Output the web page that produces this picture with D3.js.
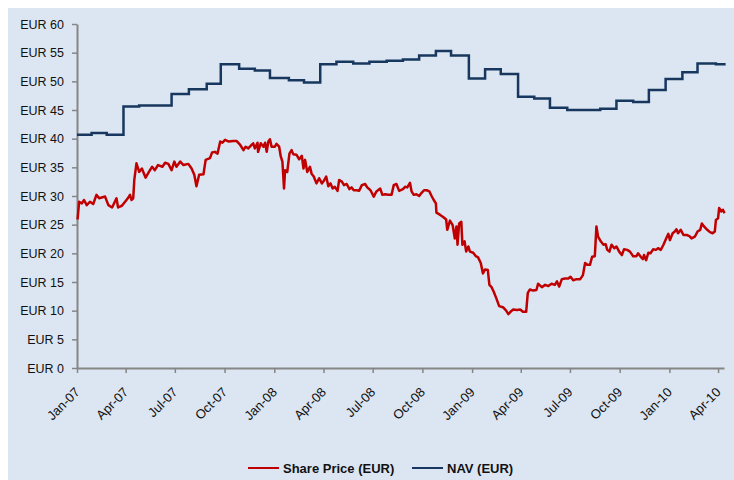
<!DOCTYPE html>
<html>
<head>
<meta charset="utf-8">
<script src="https://cdn.jsdelivr.net/npm/d3@7"></script>
<style>
  body { margin: 0; background: #fff; }
  svg { display: block; font-family: "Liberation Sans", Arial, sans-serif; }
</style>
</head>
<body>
<svg id="chart"></svg>
<script>
// days counted from 1 Jan 2007
let startDate = new Date(2007, 0, 1);
let endDay = 1197;

let yTicks = [0, 5, 10, 15, 20, 25, 30, 35, 40, 45, 50, 55, 60];
let xTickLabels = ["Jan-07","Apr-07","Jul-07","Oct-07","Jan-08","Apr-08","Jul-08","Oct-08","Jan-09","Apr-09","Jul-09","Oct-09","Jan-10","Apr-10"];

// share price, daily-ish readings
let priceDay = [1,4,9,13,18,24,30,36,41,52,58,65,73,76,83,89,94,98,101,104,106,110,115,120,127,133,139,144,150,158,163,169,175,180,184,191,197,206,212,217,221,226,234,238,246,250,255,260,265,269,274,281,289,295,302,308,312,317,323,326,329,334,335,340,345,348,351,354,357,360,366,369,374,377,380,383,385,389,393,397,400,406,411,416,419,422,426,431,434,438,443,448,453,457,461,465,469,473,477,482,485,490,494,499,504,508,512,517,522,527,533,537,543,549,554,561,565,570,576,582,586,591,596,603,607,611,616,619,623,628,633,638,642,647,652,656,660,664,665,672,678,683,685,690,695,699,702,704,707,711,713,717,720,724,727,733,738,742,747,751,755,760,763,767,771,776,781,788,794,798,802,807,814,820,825,831,834,838,844,850,853,860,866,872,878,884,888,892,897,903,909,913,918,924,931,936,940,944,949,953,958,961,964,969,974,978,981,985,989,994,998,1003,1008,1012,1018,1023,1029,1035,1038,1043,1047,1049,1053,1057,1061,1066,1071,1075,1080,1085,1090,1094,1097,1102,1106,1109,1112,1117,1122,1128,1133,1137,1143,1148,1153,1156,1160,1166,1171,1176,1180,1182,1186,1188,1192,1195,1198];
let priceValue = [25.9,29.0,28.7,29.3,28.4,29.0,28.6,30.2,29.6,29.9,28.4,28.0,29.6,28.0,28.3,29.0,29.6,30.2,29.3,29.6,32.8,35.7,34.2,34.8,33.2,34.2,35.1,34.5,35.4,35.1,35.8,35.6,34.5,36.0,35.1,36.0,35.4,35.6,34.8,33.7,31.7,33.7,33.8,36.3,36.6,37.6,37.7,37.4,39.5,39.3,39.8,39.5,39.6,39.6,38.9,38.0,38.6,38.3,38.9,39.2,38.3,39.3,37.7,39.2,38.6,39.3,37.7,39.5,39.9,38.6,38.6,39.1,38.6,36.9,36.0,31.3,34.5,34.2,37.4,38.0,37.3,37.2,36.4,37.0,34.8,36.3,34.2,35.1,33.9,33.4,32.2,33.1,32.2,32.7,33.4,31.7,32.2,31.3,31.6,30.9,32.8,32.5,31.9,32.1,31.2,31.5,31.0,31.0,30.9,31.9,32.1,31.5,31.0,29.9,30.8,31.3,30.2,30.3,30.2,30.2,31.9,32.1,30.9,31.2,31.6,31.5,32.3,30.8,30.2,30.3,30.0,30.6,31.0,31.0,30.8,30.0,29.3,28.7,27.1,26.7,26.3,25.9,24.1,25.7,24.9,22.6,24.7,21.5,25.2,25.5,21.5,22.1,20.3,21.2,20.3,20.1,19.5,19.3,18.3,16.5,17.2,17.1,14.5,14.1,13.3,12.1,10.8,10.6,10.0,9.4,9.8,10.2,10.1,10.2,9.8,9.8,13.1,13.7,13.5,13.6,14.7,14.1,14.5,14.3,14.7,14.5,15.1,14.2,15.5,15.6,15.6,15.9,15.3,15.5,15.5,16.2,18.3,18.0,18.0,19.4,19.5,24.7,22.9,22.1,21.5,21.6,20.6,20.3,21.5,20.9,21.2,20.3,19.7,20.7,20.6,20.3,19.5,19.5,20.0,19.4,19.0,19.7,18.8,20.1,20.0,20.7,20.6,20.9,20.6,21.5,22.6,23.4,22.3,23.5,23.8,24.2,23.5,24.1,23.2,23.2,23.0,22.6,22.9,23.8,24.1,25.2,24.7,24.1,23.7,23.5,23.8,25.8,26.1,27.9,27.3,27.6,27.0];

// NAV, monthly steps
let navDay = [0,27,55,86,115,175,207,240,266,300,329,357,392,420,450,480,511,541,573,603,633,664,692,725,755,784,816,846,875,907,968,998,1029,1058,1089,1120,1148,1182,1200];
let navValue = [40.7,41.0,40.7,45.6,45.8,47.8,48.6,49.6,53.0,52.2,51.9,50.6,50.2,49.8,53.0,53.4,53.1,53.4,53.6,53.8,54.5,55.3,54.5,50.5,52.1,51.3,47.3,47.0,45.4,45.0,45.2,46.6,46.4,48.5,50.4,51.6,53.1,53.0,53.0];

let seriesNames = ["Share Price (EUR)", "NAV (EUR)"];
let seriesColors = ["#C00000", "#17375E"];

let width = 734;
let height = 480;
let plotLeft = 77, plotRight = 724, plotTop = 24, plotBottom = 368;

let svg = d3.select("#chart").attr("width", width).attr("height", height);

let toDate = (d) => d3.timeDay.offset(startDate, d);

svg.append("rect")
   .attr("x", 8).attr("y", 8)
   .attr("width", width - 8).attr("height", height - 8)
   .attr("fill", "#DCE6F2");

let xScale = d3.scaleTime()
               .domain([startDate, toDate(endDay)])
               .range([plotLeft, plotRight]);
let yScale = d3.scaleLinear()
               .domain([0, 60])
               .range([plotBottom, plotTop]);

// y axis
let yAxis = d3.axisLeft(yScale)
              .tickValues(yTicks)
              .tickSize(5)
              .tickSizeOuter(0)
              .tickFormat(d => "EUR " + d);
let gy = svg.append("g")
   .attr("transform", "translate(" + plotLeft + ",0)")
   .call(yAxis);
gy.select(".domain").attr("stroke", "#868686").attr("stroke-width", 2);
gy.selectAll(".tick line").attr("stroke", "#868686").attr("stroke-width", 1.5);
gy.selectAll(".tick text")
  .attr("x", -13)
  .attr("fill", "#111")
  .style("font-size", "12.5px");

// x axis
let tickDates = xTickLabels.map((t, i) => new Date(2007, i * 3, 1));
let xAxis = d3.axisBottom(xScale)
              .tickValues(tickDates)
              .tickSize(5)
              .tickSizeOuter(0)
              .tickFormat((d, i) => xTickLabels[i]);
let gx = svg.append("g")
   .attr("transform", "translate(0," + plotBottom + ")")
   .call(xAxis);
gx.select(".domain").attr("stroke", "#868686").attr("stroke-width", 2);
gx.selectAll(".tick line").attr("stroke", "#868686").attr("stroke-width", 1.5);
gx.selectAll(".tick text")
  .attr("fill", "#111")
  .style("font-size", "13px")
  .attr("text-anchor", "end")
  .attr("x", 0).attr("y", 0).attr("dy", 0)
  .attr("transform", "translate(3,25) rotate(-45)");

// lines
let priceData = priceDay.map((d, i) => [toDate(d), priceValue[i]]);
let navData = navDay.map((d, i) => [toDate(d), navValue[i]]);

let line = d3.line().x(d => xScale(d[0])).y(d => yScale(d[1]));
let stepLine = d3.line().curve(d3.curveStepAfter).x(d => xScale(d[0])).y(d => yScale(d[1]));

svg.append("path")
   .datum(navData)
   .attr("d", stepLine)
   .attr("fill", "none")
   .attr("stroke", seriesColors[1])
   .attr("stroke-width", 2.5);

svg.append("path")
   .datum(priceData)
   .attr("d", line)
   .attr("fill", "none")
   .attr("stroke", seriesColors[0])
   .attr("stroke-width", 2.5)
   .attr("stroke-linejoin", "round");

// legend
let legendX = [248, 412];
let lg = svg.append("g");
seriesNames.forEach((name, i) => {
  lg.append("line")
    .attr("x1", legendX[i]).attr("x2", legendX[i] + 31)
    .attr("y1", 468).attr("y2", 468)
    .attr("stroke", seriesColors[i])
    .attr("stroke-width", 2);
  lg.append("text")
    .attr("x", legendX[i] + 35)
    .attr("y", 472.5)
    .attr("fill", "#111")
    .style("font-size", "13px")
    .style("font-weight", "bold")
    .text(name);
});
</script>
</body>
</html>
